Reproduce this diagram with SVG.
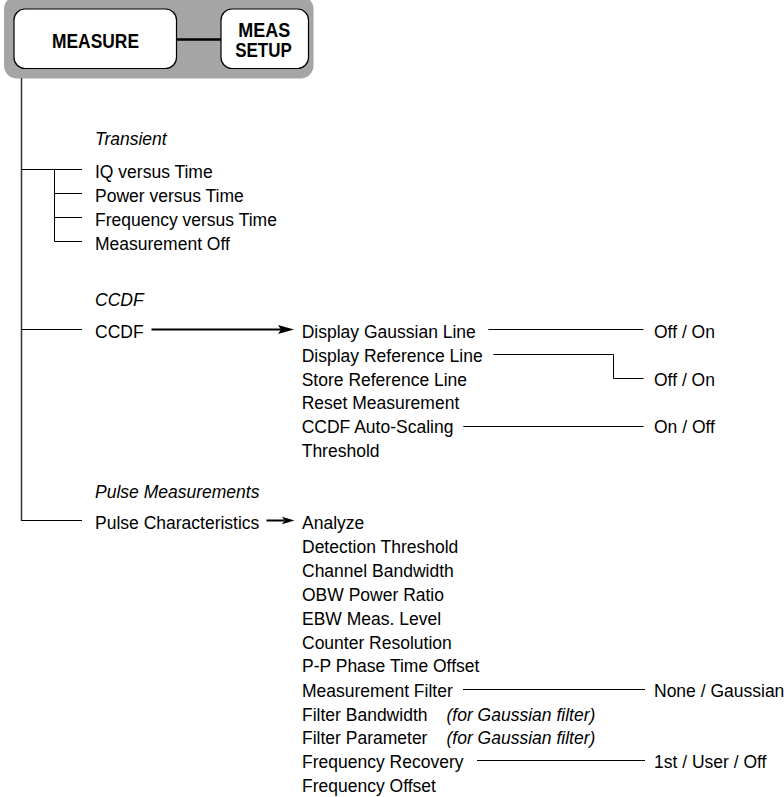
<svg xmlns="http://www.w3.org/2000/svg" width="784" height="797" viewBox="0 0 784 797">
<style>
text{font-family:"Liberation Sans",Arial,sans-serif;font-size:17.5px;fill:#000}
.h{font-style:italic}
.b{font-weight:bold;font-size:20px;text-anchor:middle}
.ln{stroke:#000;stroke-width:1;fill:none}
.ar{stroke:#000;stroke-width:2;fill:none}
.btn{fill:#fff;stroke:#000;stroke-width:1.2}
</style>
<rect width="784" height="797" fill="#fff"/>
<g id="header">
<rect x="4" y="-4" width="309.5" height="82.5" rx="13" fill="#a5a5a5"/>
<line x1="176" y1="39.5" x2="221" y2="39.5" stroke="#000" stroke-width="2.5"/>
</g>
<g id="measure">
<rect class="btn" x="14" y="9" width="162.5" height="59.5" rx="11"/>
<text class="b" x="95.5" y="48.3" textLength="87" lengthAdjust="spacingAndGlyphs">MEASURE</text>
</g>
<g id="meassetup">
<rect class="btn" x="221" y="9" width="87.5" height="59.5" rx="11"/>
<text class="b" x="264.2" y="37" textLength="52" lengthAdjust="spacingAndGlyphs">MEAS</text>
<text class="b" x="263.5" y="57.3" textLength="56.5" lengthAdjust="spacingAndGlyphs">SETUP</text>
</g>
<g id="connectors">
<line x1="21.5" y1="78" x2="21.5" y2="521" stroke="#333" stroke-width="1.5"/>
<path class="ln" d="M21.5 169.5H82M54.5 169.5V241.5M54.5 193.5H82M54.5 217.5H82M54.5 241.5H82"/>
<path class="ln" d="M21.5 329.5H82M21.5 520.5H82"/>
<path class="ar" d="M151.5 329.5H282"/>
<polygon points="294,329.5 278,325 281,329.5 278,334" fill="#000"/>
<path class="ar" d="M266.5 520.5H284"/>
<polygon points="294.5,520.5 282,516.8 284.5,520.5 282,524.2" fill="#000"/>
<path class="ln" d="M488.3 329.5H643.5"/>
<path class="ln" d="M493.3 354.5H613.5V378.5H643.5"/>
<path class="ln" d="M463.3 426.5H643.5"/>
<path class="ln" d="M463 689.5H645"/>
<path class="ln" d="M477 760.5H645"/>
</g>
<g id="transient">
<text class="h" x="95" y="145">Transient</text>
<text x="95" y="177.5">IQ versus Time</text>
<text x="95" y="201.5">Power versus Time</text>
<text x="95" y="225.5">Frequency versus Time</text>
<text x="95" y="249.5">Measurement Off</text>
</g>
<g id="ccdf">
<text class="h" x="95" y="305.5">CCDF</text>
<text x="95" y="338.3">CCDF</text>
</g>
<g id="ccdf-menu">
<text x="301.7" y="338.3">Display Gaussian Line</text>
<text x="301.7" y="362">Display Reference Line</text>
<text x="301.7" y="385.6">Store Reference Line</text>
<text x="301.7" y="409.3">Reset Measurement</text>
<text x="301.7" y="433">CCDF Auto-Scaling</text>
<text x="301.7" y="456.6">Threshold</text>
</g>
<g id="ccdf-values">
<text x="654" y="338.3">Off / On</text>
<text x="654" y="385.6">Off / On</text>
<text x="654" y="433">On / Off</text>
</g>
<g id="pulse">
<text class="h" x="95" y="497.5">Pulse Measurements</text>
<text x="95" y="529">Pulse Characteristics</text>
</g>
<g id="pulse-menu">
<text x="302" y="529">Analyze</text>
<text x="302" y="552.9">Detection Threshold</text>
<text x="302" y="576.8">Channel Bandwidth</text>
<text x="302" y="600.7">OBW Power Ratio</text>
<text x="302" y="624.6">EBW Meas. Level</text>
<text x="302" y="648.5">Counter Resolution</text>
<text x="302" y="672.4">P-P Phase Time Offset</text>
<text x="302" y="696.8">Measurement Filter</text>
<text x="302" y="720.5">Filter Bandwidth</text>
<text class="h" x="446.5" y="720.5">(for Gaussian filter)</text>
<text x="302" y="744.2">Filter Parameter</text>
<text class="h" x="446.5" y="744.2">(for Gaussian filter)</text>
<text x="302" y="768.3">Frequency Recovery</text>
<text x="302" y="792">Frequency Offset</text>
</g>
<g id="pulse-values">
<text x="654" y="696.8">None / Gaussian</text>
<text x="654" y="768.3">1st / User / Off</text>
</g>
</svg>
